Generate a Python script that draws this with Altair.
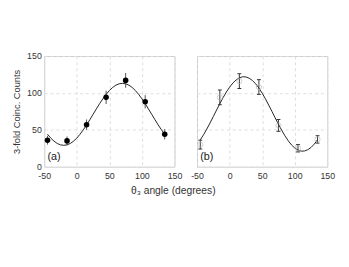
import altair as alt
import pandas as pd

angles = [-45, -15, 15, 45, 75, 105, 135]
counts_a = [36, 35, 57, 94, 117, 88, 44]
err_a = [6, 6, 7, 9, 10, 9, 7]
counts_b = [30, 94, 116, 108, 56, 25, 37]
err_b = [6, 10, 10, 10, 8, 5, 5]

fit_x = [-45, -40, -35, -30, -25, -20, -15, -10, -5, 0, 5, 10, 15, 20, 25, 30, 35,
         40, 45, 50, 55, 60, 65, 70, 75, 80, 85, 90, 95, 100, 105, 110, 115, 120,
         125, 130, 135]
fit_a = [44.0, 38.8, 34.6, 31.5, 29.6, 29.0, 29.6, 31.5, 34.6, 38.8, 44.0, 50.0,
         56.6, 63.7, 71.0, 78.3, 85.4, 92.0, 98.0, 103.2, 107.4, 110.5, 112.4, 113.0,
         112.4, 110.5, 107.4, 103.2, 98.0, 92.0, 85.4, 78.3, 71.0, 63.7, 56.6, 50.0, 44.0]
fit_b = [36.4, 43.3, 51.0, 59.3, 68.0, 76.8, 85.4, 93.6, 101.2, 107.8, 113.4, 117.6,
         120.5, 121.9, 121.7, 120.0, 116.9, 112.4, 106.6, 99.7, 92.0, 83.7, 75.0, 66.2,
         57.6, 49.4, 41.8, 35.2, 29.6, 25.3, 22.5, 21.1, 21.3, 23.0, 26.1, 30.6, 36.4]

x_ticks = [-50, 0, 50, 100, 150]
y_ticks = [0, 50, 100, 150]

FONT = "Liberation Sans"
W, H = 133, 113

xs = alt.Scale(domain=[-50, 150], nice=False, zero=False)
ys = alt.Scale(domain=[0, 150], nice=False)


def panel(counts, errs, fit, label, filled, show_y):
    pts = pd.DataFrame({"x": angles, "y": counts,
                        "lo": [c - e for c, e in zip(counts, errs)],
                        "hi": [c + e for c, e in zip(counts, errs)]})
    fdf = pd.DataFrame({"x": fit_x, "y": fit})
    xax = alt.Axis(values=x_ticks, title=None, grid=True, gridDash=[3, 3],
                   gridColor="#dddddd", domain=False, ticks=False, labelPadding=5,
                   labelFontSize=9, labelFont=FONT, labelColor="#333333",
                   labelOverlap=False, labelExpr="'' + datum.value", labelFlush=False)
    yax = alt.Axis(values=y_ticks, title="3-fold Coinc. Counts" if show_y else None,
                   grid=True, gridDash=[3, 3], gridColor="#dddddd", domain=False,
                   ticks=False, labels=show_y, labelPadding=3, labelFontSize=9,
                   labelFont=FONT, labelColor="#333333", titleFont=FONT,
                   labelOverlap=False, labelFlush=False,
                   titleFontSize=9.5, titleFontWeight="normal", titleColor="#333333",
                   titlePadding=5)

    def X(f):
        return alt.X(f, type="quantitative", scale=xs, axis=xax)

    def Y(f):
        return alt.Y(f, type="quantitative", scale=ys, axis=yax)

    line = alt.Chart(fdf).mark_line(color="#222222", strokeWidth=1).encode(
        x=X("x"), y=Y("y"))
    bar_col = "#555555" if filled else "#333333"
    bars = alt.Chart(pts).mark_rule(color=bar_col, strokeWidth=1).encode(
        x=X("x"), y=Y("lo"), y2="hi:Q")
    layers = [line, bars]
    if not filled:
        cap_lo = alt.Chart(pts).mark_tick(orient="horizontal", size=4, thickness=1,
                                          color=bar_col, opacity=1).encode(
            x=X("x"), y=Y("lo"))
        cap_hi = alt.Chart(pts).mark_tick(orient="horizontal", size=4, thickness=1,
                                          color=bar_col, opacity=1).encode(
            x=X("x"), y=Y("hi"))
        layers += [cap_lo, cap_hi]
    if filled:
        dots = alt.Chart(pts).mark_point(filled=True, color="black", size=32, opacity=1).encode(
            x=X("x"), y=Y("y"))
    else:
        dots = alt.Chart(pts).mark_point(filled=False, color="#bbbbbb", size=28,
                                         strokeWidth=1).encode(x=X("x"), y=Y("y"))
    layers.append(dots)
    lab = alt.Chart(pd.DataFrame({"x": [-45], "y": [13], "t": [label]})).mark_text(
        align="left", baseline="middle", fontSize=11, font=FONT, color="#222222").encode(
        x=X("x"), y=Y("y"), text="t:N")
    layers.append(lab)
    return alt.layer(*layers).properties(width=W, height=H)


a = panel(counts_a, err_a, fit_a, "(a)", True, True)
b = panel(counts_b, err_b, fit_b, "(b)", False, False)

chart = alt.hconcat(a, b, spacing=23, bounds="flush").properties(
    title=alt.TitleParams("θ₃ angle (degrees)", orient="bottom", anchor="middle",
                          font=FONT, fontSize=10.5, fontWeight="normal",
                          color="#333333", offset=5),
    padding={"top": 42, "left": 3, "right": 5, "bottom": 5},
).configure_view(stroke="#cccccc", strokeWidth=1)

chart.save("out.html", embed_options={"renderer": "svg", "actions": False})
